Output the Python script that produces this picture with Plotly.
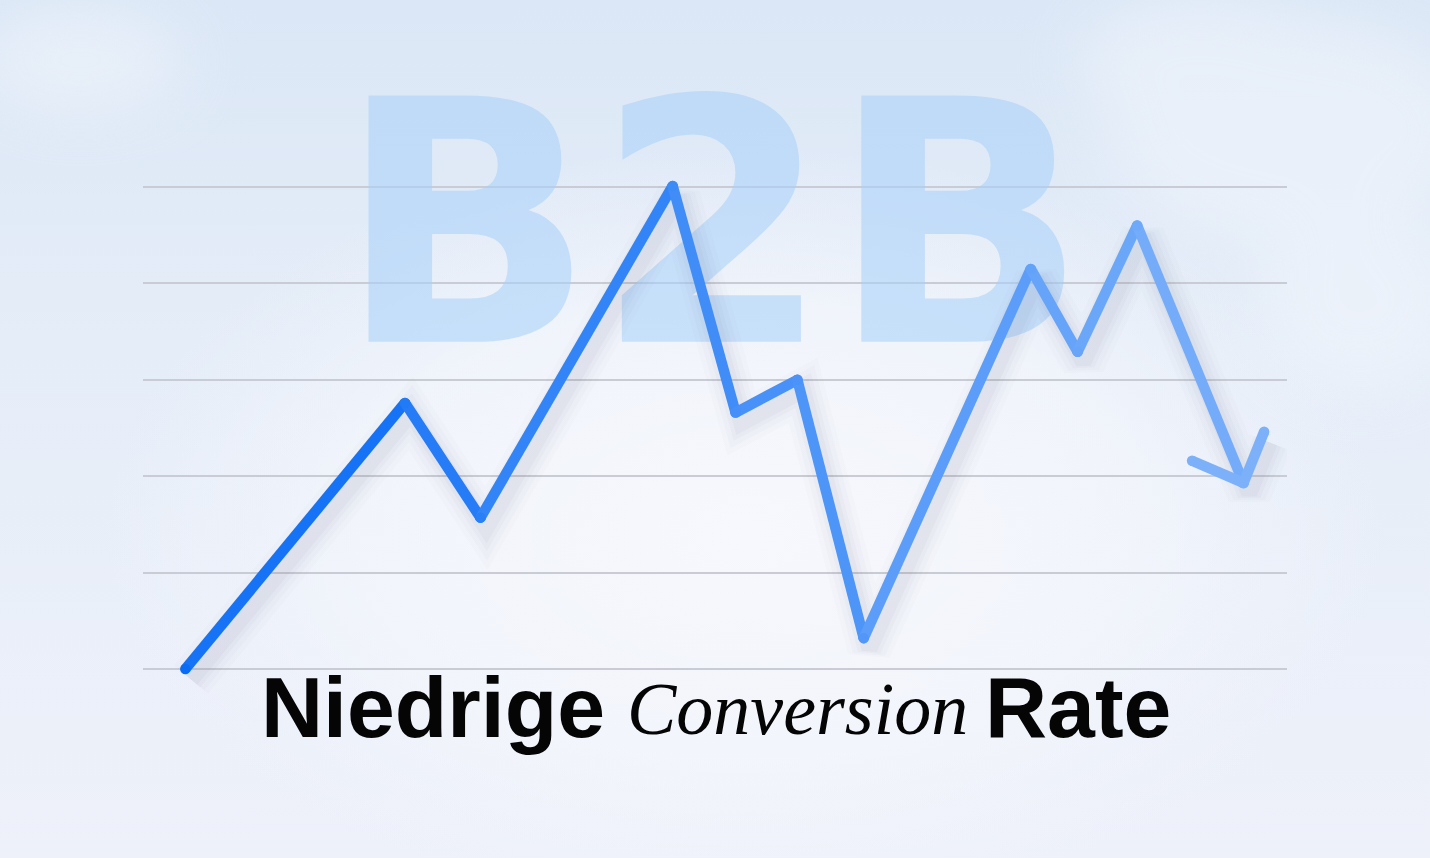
import base64
import plotly.graph_objects as go

# ---------------- data ----------------
x_vals = [3.7, 22.9, 29.5, 46.3, 51.8, 57.2, 63.0, 77.6, 81.7, 86.9, 96.2]
y_vals = [0.0, 2.76, 1.57, 5.01, 2.66, 3.00, 0.32, 4.15, 3.29, 4.60, 1.93]
arrow_x = [91.7, 96.2, 98.0]
arrow_y = [2.16, 1.93, 2.46]
grid_vals = [0, 1, 2, 3, 4, 5]
watermark = "B2B"
watermark_pos = (49.8, 4.27)
title_parts = ["Niedrige", "Conversion", "Rate"]

# ---------------- layout constants ----------------
W, H = 1430, 858
ML, MR, MT, MB = 143, 143, 60, 58
PW, PH = W - ML - MR, H - MT - MB
Y_RANGE = [-1.359, 6.317]
X_RANGE = [0, 100]

c0 = (10, 108, 245)
c1 = (124, 177, 250)


def col(t, a=1.0):
    r = round(c0[0] + (c1[0] - c0[0]) * t)
    g = round(c0[1] + (c1[1] - c0[1]) * t)
    b = round(c0[2] + (c1[2] - c0[2]) * t)
    return f"rgba({r},{g},{b},{a})"


def frac(x):
    return (x - x_vals[0]) / (arrow_x[-1] - x_vals[0])


# background (sky) as inline svg image
svg = f"""<svg xmlns='http://www.w3.org/2000/svg' width='{W}' height='{H}' viewBox='0 0 {W} {H}'>
<defs>
<linearGradient id='g' x1='0' y1='0' x2='0' y2='1'>
<stop offset='0' stop-color='#dbe7f6'/>
<stop offset='0.4' stop-color='#e5edf8'/>
<stop offset='1' stop-color='#eef1fa'/>
</linearGradient>
<radialGradient id='c' cx='0.52' cy='0.62' r='0.45'>
<stop offset='0' stop-color='#f7f8fd' stop-opacity='1'/>
<stop offset='0.6' stop-color='#f5f7fc' stop-opacity='0.7'/>
<stop offset='1' stop-color='#f3f5fc' stop-opacity='0'/>
</radialGradient>
<filter id='b' x='-50%' y='-50%' width='200%' height='200%'><feGaussianBlur stdDeviation='30'/></filter>
</defs>
<rect width='{W}' height='{H}' fill='url(#g)'/>
<g filter='url(#b)' fill='#f2f6fc' opacity='0.55'>
<ellipse cx='1290' cy='130' rx='180' ry='110'/>
<ellipse cx='1200' cy='60' rx='120' ry='60'/>
<ellipse cx='1360' cy='300' rx='100' ry='90'/>
<ellipse cx='80' cy='60' rx='100' ry='50'/>
</g>
<rect width='{W}' height='{H}' fill='url(#c)'/>
</svg>"""
bg_uri = "data:image/svg+xml;base64," + base64.b64encode(svg.encode()).decode()

fig = go.Figure()

# watermark text behind everything
fig.add_trace(go.Scatter(
    x=[watermark_pos[0]], y=[watermark_pos[1]], mode="text", text=[watermark],
    textposition="middle center", cliponaxis=False,
    textfont=dict(family="DejaVu Sans", size=338, color="rgba(165,208,250,0.55)", weight=700),
    hoverinfo="skip", showlegend=False,
))

# soft shadow under the line
sx = [v + 0.5 for v in x_vals] + [arrow_x[2] + 0.5]
sy = [v - 0.11 for v in y_vals] + [arrow_y[2] - 0.11]
for w, a in [(44, 0.018), (34, 0.022), (24, 0.028), (16, 0.035)]:
    fig.add_trace(go.Scatter(x=sx, y=sy, mode="lines",
                             line=dict(color=f"rgba(80,90,120,{a})", width=w),
                             hoverinfo="skip", showlegend=False))

# main line, segment by segment for the gradient
for i in range(len(x_vals) - 1):
    t = frac((x_vals[i] + x_vals[i + 1]) / 2)
    fig.add_trace(go.Scatter(
        x=x_vals[i:i + 2], y=y_vals[i:i + 2], mode="lines+markers",
        line=dict(color=col(t), width=10.5),
        marker=dict(size=10.5, color=[col(frac(x_vals[i])), col(frac(x_vals[i + 1]))], line=dict(width=0)),
        hoverinfo="skip", showlegend=False,
    ))
# arrow head
for a, b in [(0, 1), (1, 2)]:
    fig.add_trace(go.Scatter(
        x=[arrow_x[a], arrow_x[b]], y=[arrow_y[a], arrow_y[b]],
        mode="lines+markers",
        line=dict(color=col(1.0), width=10.5),
        marker=dict(size=10.5, color=col(1.0), line=dict(width=0)),
        hoverinfo="skip", showlegend=False,
    ))


def px_x(p):
    return (p - ML) / PW


def px_y(p):
    return (H - MB - p) / PH


annotations = [
    dict(text=title_parts[0], xref="paper", yref="paper", x=px_x(259), y=px_y(707),
         xanchor="left", yanchor="middle", showarrow=False,
         font=dict(family="Liberation Sans", size=86, color="#050505", weight=700)),
    dict(text=f"<i>{title_parts[1]}</i>", xref="paper", yref="paper", x=px_x(797), y=px_y(709),
         xanchor="center", yanchor="middle", showarrow=False,
         font=dict(family="Liberation Serif", size=74, color="#050505")),
    dict(text=title_parts[2], xref="paper", yref="paper", x=px_x(1173), y=px_y(707),
         xanchor="right", yanchor="middle", showarrow=False,
         font=dict(family="Liberation Sans", size=86, color="#050505", weight=700)),
]

fig.update_layout(
    width=W, height=H,
    margin=dict(l=ML, r=MR, t=MT, b=MB),
    paper_bgcolor="#eef1fa", plot_bgcolor="rgba(0,0,0,0)",
    showlegend=False,
    images=[dict(source=bg_uri, xref="paper", yref="paper",
                 x=-ML / PW, y=1 + MT / PH, sizex=W / PW, sizey=H / PH,
                 xanchor="left", yanchor="top", sizing="stretch", layer="below")],
    xaxis=dict(range=X_RANGE, visible=False, fixedrange=True),
    yaxis=dict(range=Y_RANGE, showgrid=True, gridcolor="#c9ccd4", gridwidth=1.6,
               tickvals=grid_vals, zeroline=False, showticklabels=False, ticks="",
               showline=False, fixedrange=True),
    annotations=annotations,
)

fig.write_html("out.html", config={"displayModeBar": False},
               post_script="document.body.style.margin='0';document.body.style.background='#eef1fa';")
